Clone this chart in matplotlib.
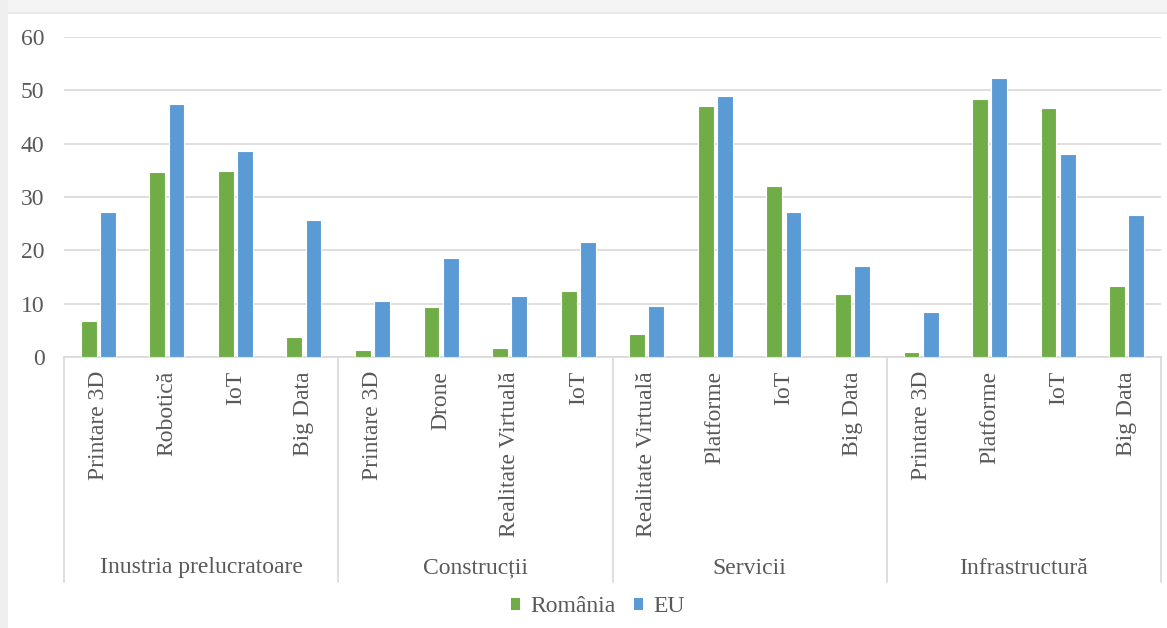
import matplotlib
matplotlib.use("Agg")
import matplotlib.pyplot as plt
from matplotlib.patches import Rectangle, Patch
from matplotlib.lines import Line2D
import numpy as np

plt.rcParams['font.family'] = ['Liberation Serif', 'DejaVu Serif']

groups = ["Inustria prelucratoare", "Construcții", "Servicii", "Infrastructură"]
categories = [
    "Printare 3D", "Robotică", "IoT", "Big Data",
    "Printare 3D", "Drone", "Realitate Virtuală", "IoT",
    "Realitate Virtuală", "Platforme", "IoT", "Big Data",
    "Printare 3D", "Platforme", "IoT", "Big Data",
]
romania = [6.7, 34.6, 34.8, 3.7,
           1.4, 9.3, 1.75, 12.3,
           4.3, 47.1, 32.1, 11.8,
           1.0, 48.4, 46.6, 13.3]
eu = [27.2, 47.4, 38.7, 25.7,
      10.5, 18.5, 11.4, 21.5,
      9.6, 48.9, 27.1, 17.1,
      8.4, 52.3, 38.0, 26.6]
series_names = ["România", "EU"]
yticks = [0, 10, 20, 30, 40, 50, 60]

GREEN = "#70AD47"
BLUE = "#5B9BD5"
TXT = "#595959"
GRID = "#D9D9D9"
FS = 17

W, H = 1167, 628
fig = plt.figure(figsize=(W / 100, H / 100), dpi=100, facecolor="white")

# outer frame (screenshot border)
fig.patches.append(Rectangle((0, 1 - 14 / H), 1, 14 / H, transform=fig.transFigure,
                             facecolor="#F4F4F4", edgecolor="none", zorder=0))
fig.patches.append(Rectangle((0, 1 - 14 / H), 1, 2 / H, transform=fig.transFigure,
                             facecolor="#E8E8E8", edgecolor="none", zorder=0))
fig.patches.append(Rectangle((0, 0), 8 / W, 1, transform=fig.transFigure,
                             facecolor="#EFEFEF", edgecolor="none", zorder=0))

left, right, top, bottom = 64, 1161, 37, 357
ax = fig.add_axes([left / W, 1 - bottom / H, (right - left) / W, (bottom - top) / H])
ax.set_facecolor("none")

x = np.arange(len(categories))
bw = 0.23
off = 0.14
ax.bar(x - off, romania, width=bw, color=GREEN, edgecolor="white", linewidth=0.8, zorder=3)
ax.bar(x + off, eu, width=bw, color=BLUE, edgecolor="white", linewidth=0.8, zorder=3)

ax.set_xlim(-0.5, len(categories) - 0.5)
ax.set_ylim(0, 60)
ax.set_yticks(yticks)
ax.set_yticklabels([str(v) for v in yticks], fontsize=FS, color=TXT)
ax.tick_params(axis="y", length=0, pad=14)
ax.set_xticks([])
ax.grid(axis="y", color=GRID, linewidth=1.2, zorder=0)
for s in ["top", "right", "left"]:
    ax.spines[s].set_visible(False)
ax.spines["bottom"].set_color(GRID)
ax.spines["bottom"].set_linewidth(1.2)

trans = ax.get_xaxis_transform()
axh = bottom - top
y_cat = -(371 - bottom) / axh
y_grp = -(568 - bottom) / axh
y_sep = -(582 - bottom) / axh

for xi, lab in zip(x, categories):
    ax.text(xi, y_cat, lab, rotation=90, ha="center", va="top", fontsize=FS,
            color=TXT, transform=trans, clip_on=False)

n_per = len(categories) // len(groups)
for gi, g in enumerate(groups):
    cx = gi * n_per + (n_per - 1) / 2
    ax.text(cx, y_grp, g, ha="center", va="center", fontsize=FS, color=TXT,
            transform=trans, clip_on=False)
for gi in range(len(groups) + 1):
    xs = gi * n_per - 0.5
    ax.add_line(Line2D([xs, xs], [0, y_sep], transform=trans, color=GRID,
                       linewidth=1.2, clip_on=False))

handles = [Patch(facecolor=GREEN, edgecolor="none"), Patch(facecolor=BLUE, edgecolor="none")]
fig.legend(handles, series_names, loc="center", bbox_to_anchor=(598 / W, 1 - 607 / H),
           ncol=2, frameon=False, fontsize=FS, labelcolor=TXT,
           handlelength=0.36, handleheight=0.36, handletextpad=0.45, columnspacing=0.8)

fig.savefig("out.png", dpi=100, facecolor=fig.get_facecolor())
